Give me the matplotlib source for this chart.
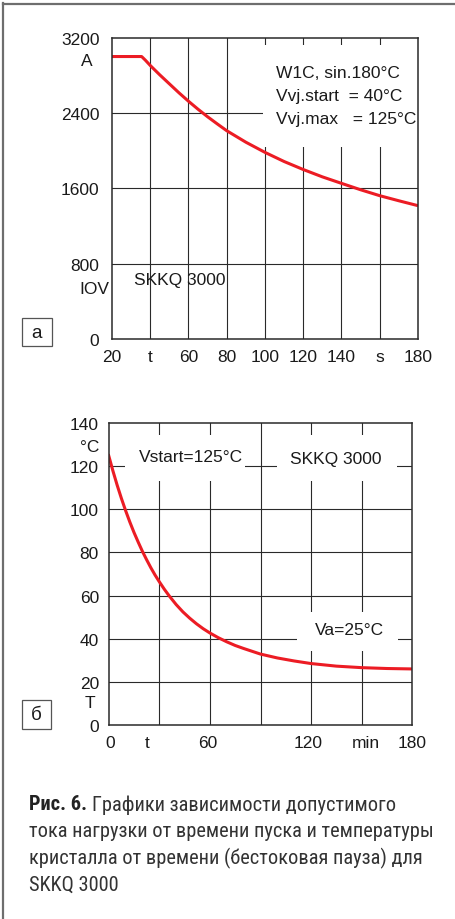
import matplotlib
matplotlib.use("Agg")
import matplotlib.pyplot as plt
from matplotlib import font_manager as fm
from matplotlib.patches import Rectangle
from matplotlib.lines import Line2D

# ---------------- data ----------------
# chart a: permissible load current vs start time
a_time = [20, 35.5, 37.5, 40, 45, 50, 55, 60, 65, 70, 75, 80, 90, 100, 110, 120, 130, 140, 150, 160, 170, 180]
a_current = [3000, 3000, 2960, 2905, 2805, 2710, 2615, 2525, 2440, 2360, 2285, 2212, 2090, 1982, 1885, 1800, 1722, 1653, 1585, 1522, 1468, 1416]
a_xticks = [20, 40, 60, 80, 100, 120, 140, 160, 180]
a_xlabels = ['20', 't', '60', '80', '100', '120', '140', 's', '180']
a_yticks = [0, 800, 1600, 2400, 3200]
a_ylabels = ['0', '800', '1600', '2400', '3200']
a_vgrid = [40, 60, 80, 100, 120, 140, 160]
a_hgrid = [800, 1600, 2400]

# chart b: junction temperature vs time (no-current pause)
b_time = [0, 2.5, 5, 7.5, 10, 12.5, 15, 17.5, 20, 22.5, 25, 27.5, 30, 33, 36, 40, 44, 48, 52, 56,
          60, 65, 70, 75, 80, 90, 100, 110, 120, 135, 150, 165, 180]
b_temp = [125, 117.9, 111.3, 105.2, 99.5, 94.2, 89.3, 84.8, 80.5, 76.6, 72.9, 69.5, 66.4, 62.9, 59.7,
          55.8, 52.4, 49.5, 46.9, 44.6, 42.6, 40.4, 38.5, 36.8, 35.4, 32.8, 31.0, 29.6, 28.4, 27.2,
          26.5, 26.1, 25.9]
b_xticks = [1, 22.5, 58.5, 118.5, 152.5, 180]
b_xlabels = ['0', 't', '60', '120', 'min', '180']
b_yticks = [0, 20, 40, 60, 80, 100, 120, 140]
b_ylabels = ['0', '20', '40', '60', '80', '100', '120', '140']
b_vgrid = [30, 60, 90, 120, 150]
b_hgrid = [20, 40, 60, 80, 100, 120]

caption_bold = 'Рис. 6.'
caption_lines = ['Графики зависимости допустимого',
                 'тока нагрузки от времени пуска и температуры',
                 'кристалла от времени (бестоковая пауза) для',
                 'SKKQ 3000']

# ---------------- fonts ----------------
def pick(names):
    for n in names:
        try:
            fm.findfont(fm.FontProperties(family=n), fallback_to_default=False)
            return n
        except Exception:
            pass
    return 'DejaVu Sans'

chart_font = pick(['Liberation Sans', 'Arial', 'DejaVu Sans'])
cap_font = pick(['Roboto Condensed', 'DejaVu Sans Condensed', 'Liberation Sans Narrow', 'Roboto', 'DejaVu Sans'])
plt.rcParams['font.family'] = [chart_font, 'DejaVu Sans']

W, H = 456, 920
fig = plt.figure(figsize=(W / 100, H / 100), dpi=100)
fig.patch.set_facecolor('white')

RED = '#ec1c24'
GRID = '#2a2a2a'
TXT = '#1a1a1a'
FS = 12.5


def px_axes(l, t, r, b):
    return fig.add_axes([l / W, 1 - b / H, (r - l) / W, (b - t) / H])


def style(ax):
    for s in ax.spines.values():
        s.set_linewidth(1.1)
        s.set_color(GRID)
        s.set_zorder(3)
    ax.tick_params(length=0, labelsize=FS, labelcolor=TXT)


# ---------------- chart a ----------------
ax1 = px_axes(112, 38.7, 418, 340)
ax1.set_xlim(20, 180)
ax1.set_ylim(0, 3200)
style(ax1)
for v in a_vgrid:
    ax1.axvline(v, color=GRID, lw=0.8, zorder=1)
for h in a_hgrid:
    ax1.axhline(h, color=GRID, lw=0.8, zorder=1)
ax1.add_patch(Rectangle((98.8, 2039), 180 - 98.8, 3122 - 2039, facecolor='white',
                        edgecolor='none', zorder=1.5))
ax1.plot(a_time, a_current, color=RED, lw=2.2, zorder=2, solid_capstyle='butt')
ax1.set_xticks(a_xticks, a_xlabels)
ax1.set_yticks(a_yticks, a_ylabels)
ax1.tick_params(axis='x', pad=7.5)
ax1.tick_params(axis='y', pad=9)
ax1.text(105.8, 2832, 'W1C, sin.180°C', fontsize=FS, color=TXT, va='center', zorder=4)
ax1.text(105.8, 2584, 'Vvj.start  = 40°C', fontsize=FS, color=TXT, va='center', zorder=4)
ax1.text(105.8, 2344, 'Vvj.max   = 125°C', fontsize=FS, color=TXT, va='center', zorder=4)
ax1.text(31.5, 630, 'SKKQ 3000', fontsize=FS, color=TXT, va='center', zorder=4)
ax1.text(-25 / 306, (340 - 62) / 301.3, 'A', transform=ax1.transAxes, fontsize=FS,
         color=TXT, ha='center', va='center')
ax1.text(-3 / 306, (340 - 290) / 301.3, 'IOV', transform=ax1.transAxes, fontsize=FS,
         color=TXT, ha='right', va='center')

# ---------------- chart b ----------------
ax2 = px_axes(108.7, 424.3, 412.3, 725.7)
ax2.set_xlim(0, 180)
ax2.set_ylim(0, 140)
style(ax2)
for v in b_vgrid:
    ax2.axvline(v, color=GRID, lw=0.8, zorder=1)
for h in b_hgrid:
    ax2.axhline(h, color=GRID, lw=0.8, zorder=1)
for (x0, x1, y0, y1) in [(9.7, 81, 113, 134.6), (99.6, 170.7, 113, 134.6), (111.8, 171.7, 34.3, 52.4)]:
    ax2.add_patch(Rectangle((x0, y0), x1 - x0, y1 - y0, facecolor='white', edgecolor='none', zorder=1.5))
ax2.plot(b_time, b_temp, color=RED, lw=2.2, zorder=2)
ax2.set_xticks(b_xticks, b_xlabels)
ax2.set_yticks(b_yticks, b_ylabels)
ax2.tick_params(axis='x', pad=7.5)
ax2.tick_params(axis='y', pad=7)
ax2.text(48.7, 124.7, 'Vstart=125°C', fontsize=FS, color=TXT, ha='center', va='center', zorder=4)
ax2.text(134.8, 123.6, 'SKKQ 3000', fontsize=FS, color=TXT, ha='center', va='center', zorder=4)
ax2.text(142.5, 44.4, 'Va=25°C', fontsize=FS, color=TXT, ha='center', va='center', zorder=4)
ax2.text(-9.7 / 303.6, 129 / 140, '°C', transform=ax2.transAxes, fontsize=FS,
         color=TXT, ha='right', va='center')
ax2.text(-18.7 / 303.6, 10.4 / 140, 'T', transform=ax2.transAxes, fontsize=FS,
         color=TXT, ha='center', va='center')

# ---------------- letter boxes ----------------
for (l, t, r, b, s) in [(22.3, 319, 51.7, 347.3, 'а'), (21.7, 701, 51, 730, 'б')]:
    fig.patches.append(Rectangle((l / W, 1 - b / H), (r - l) / W, (b - t) / H,
                                 transform=fig.transFigure, facecolor='none',
                                 edgecolor='#555555', lw=0.9))
    fig.text((l + r) / 2 / W, 1 - (t + b) / 2 / H - 0.5 / H, s, fontsize=FS + 1, color=TXT,
             ha='center', va='center')

# ---------------- frame ----------------
fig.add_artist(Line2D([3.5 / W, 3.5 / W], [0, 1 - 4 / H], transform=fig.transFigure,
                      color='#6e6e6e', lw=1.6))
fig.add_artist(Line2D([3.5 / W, 455 / W], [1 - 4.5 / H, 1 - 4.5 / H], transform=fig.transFigure,
                      color='#6e6e6e', lw=1.6))

# ---------------- caption ----------------
renderer = fig.canvas.get_renderer()
probe = fig.text(0, 0, caption_lines[1], family=[cap_font, 'DejaVu Sans'], fontsize=10)
wpx = probe.get_window_extent(renderer).width
probe.remove()
cfs = 10 * 403 / wpx
CAPC = '#333333'
ys = [805, 832, 858.5, 885]
xb = 29
tb = fig.text(xb / W, 1 - ys[0] / H, caption_bold, family=[cap_font, 'DejaVu Sans'],
              fontsize=cfs, fontweight='bold', color='#222222', va='center')
bw = tb.get_window_extent(renderer).width
fig.text((xb + bw + cfs * 0.35) / W, 1 - ys[0] / H, caption_lines[0], family=[cap_font, 'DejaVu Sans'],
         fontsize=cfs, color=CAPC, va='center')
for y, line in zip(ys[1:], caption_lines[1:]):
    fig.text(xb / W, 1 - y / H, line, family=[cap_font, 'DejaVu Sans'], fontsize=cfs,
             color=CAPC, va='center')

fig.savefig('out.png', dpi=100, facecolor='white')
